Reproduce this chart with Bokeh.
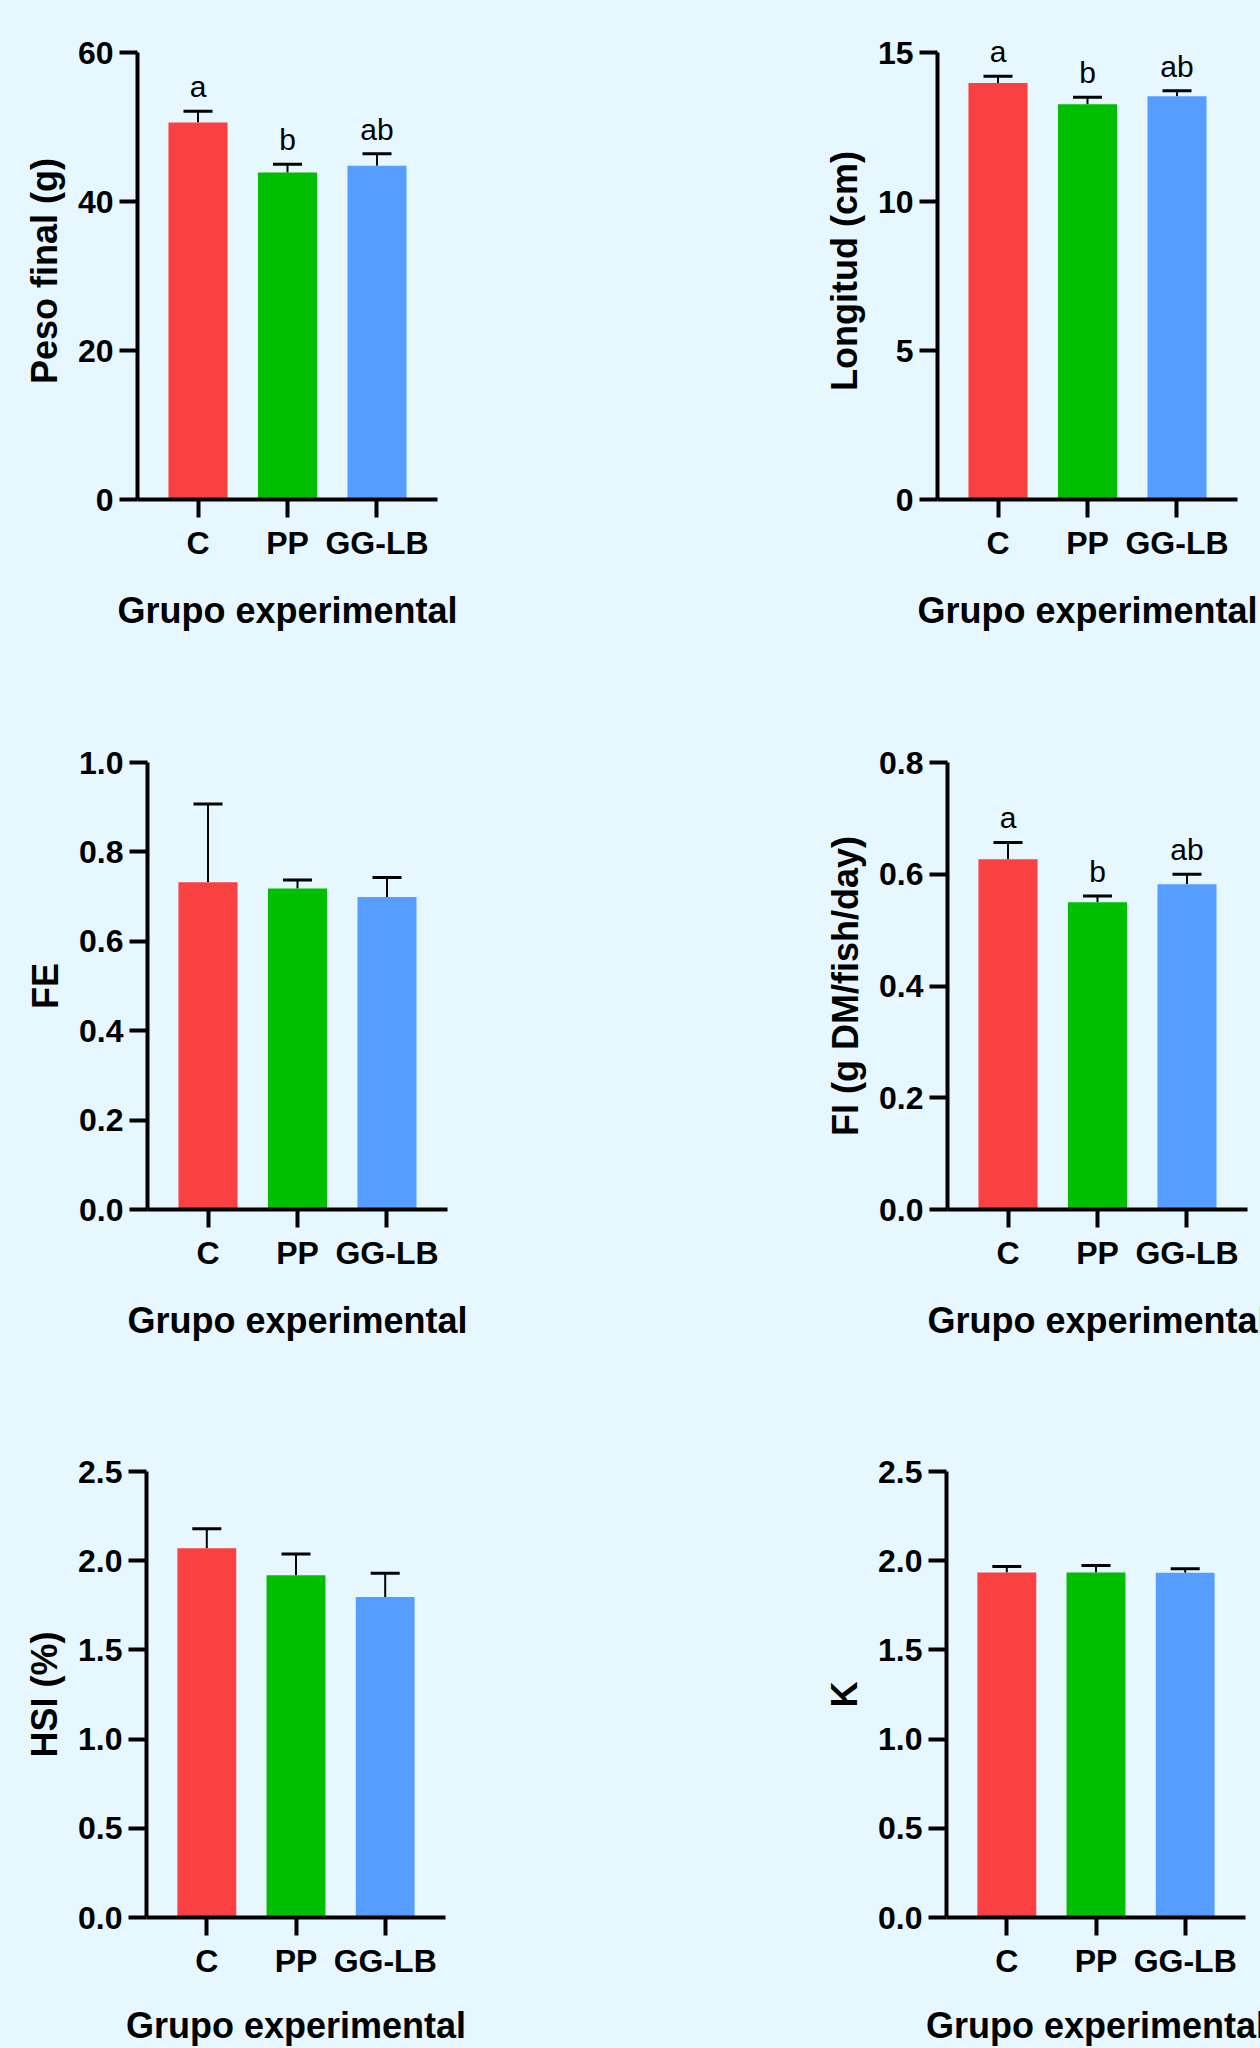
from bokeh.plotting import figure
from bokeh.models import (FactorRange, Range1d, FixedTicker, NumeralTickFormatter,
                          ColumnDataSource, LabelSet)
from bokeh.layouts import column, row
from bokeh.core.properties import value
from bokeh.embed import file_html
from bokeh.resources import INLINE

groups = ["C", "PP", "GG-LB"]
colors = ["#F94141", "#00BF00", "#559EFF"]
BG = "#E6F7FF"
FONT = "Liberation Sans"

peso = [50.6, 43.9, 44.8]
peso_err = [1.5, 1.1, 1.6]
peso_letters = ["a", "b", "ab"]

longitud = [13.98, 13.26, 13.53]
longitud_err = [0.22, 0.24, 0.19]
longitud_letters = ["a", "b", "ab"]

fe = [0.732, 0.718, 0.699]
fe_err = [0.175, 0.019, 0.044]

fi = [0.627, 0.550, 0.582]
fi_err = [0.030, 0.011, 0.018]
fi_letters = ["a", "b", "ab"]

hsi = [2.070, 1.918, 1.797]
hsi_err = [0.109, 0.120, 0.132]

k_vals = [1.934, 1.934, 1.932]
k_err = [0.034, 0.039, 0.023]

xlabel = "Grupo experimental"

AXIS_PX = 447   # pixel length of the drawn y axis


def panel(vals, errs, letters, ylabel, ymax, ticks, fmt, w, h, left, right, top, bottom,
          xstand=26, extra=0):
    p = figure(width=w, height=h, output_backend="svg", toolbar_location=None,
               x_range=FactorRange(factors=groups, range_padding=0.176, range_padding_units="absolute"),
               y_range=Range1d(0, ymax * (AXIS_PX + extra) / AXIS_PX),
               min_border_left=left, min_border_right=right,
               min_border_top=top - extra, min_border_bottom=bottom)
    p.background_fill_color = BG
    p.border_fill_color = BG
    p.outline_line_color = None
    p.xgrid.visible = False
    p.ygrid.visible = False
    tops = [v + e for v, e in zip(vals, errs)]
    src = ColumnDataSource(dict(x=groups, v=vals, top=tops, c=colors,
                                lab=letters if letters else [""] * 3))
    p.segment(x0="x", y0="v", x1="x", y1="top", source=src, line_color="black", line_width=2)
    p.scatter(x="x", y="top", source=src, marker="dash", size=29, line_color="black", line_width=3)
    p.vbar(x="x", top="v", width=0.66, source=src, fill_color="c", line_color=None)
    if letters:
        labels = LabelSet(x="x", y="top", text="lab", source=src, text_align="center",
                          text_baseline="alphabetic", y_offset=14,
                          text_font=value(FONT), text_font_size="30px", text_color="black")
        p.add_layout(labels)
    for ax in (p.xaxis[0], p.yaxis[0]):
        ax.axis_line_width = 4
        ax.axis_line_color = "black"
        ax.major_tick_line_width = 4
        ax.major_tick_line_color = "black"
        ax.major_tick_in = 0
        ax.major_tick_out = 18
        ax.minor_tick_line_color = None
        ax.major_label_text_font = FONT
        ax.major_label_text_font_style = "bold"
        ax.major_label_text_color = "black"
        ax.axis_label_text_font = FONT
        ax.axis_label_text_font_style = "bold"
        ax.axis_label_text_color = "black"
        ax.axis_label_text_font_size = "36px"
    xa = p.xaxis[0]
    xa.major_label_text_font_size = "32px"
    xa.major_label_standoff = 7
    xa.axis_label = xlabel
    xa.axis_label_standoff = xstand
    ya = p.yaxis[0]
    ya.ticker = FixedTicker(ticks=ticks)
    ya.bounds = (0, ymax)
    if fmt:
        ya.formatter = NumeralTickFormatter(format=fmt)
    ya.major_label_text_font_size = "32px"
    ya.major_label_standoff = 6
    ya.axis_label = ylabel
    ya.axis_label_standoff = 10
    return p


p1 = panel(peso, peso_err, peso_letters, "Peso final (g)", 60, [0, 20, 40, 60], None,
           630, 700, 137, 193, 52, 201, extra=10)
p2 = panel(longitud, longitud_err, longitud_letters, "Longitud (cm)", 15, [0, 5, 10, 15], None,
           630, 700, 307, 23, 52, 201, extra=10)
p3 = panel(fe, fe_err, None, "FE", 1.0, [0, 0.2, 0.4, 0.6, 0.8, 1.0], "0.0",
           630, 700, 147, 183, 62, 191)
p4 = panel(fi, fi_err, fi_letters, "FI (g DM/fish/day)", 0.8, [0, 0.2, 0.4, 0.6, 0.8], "0.0",
           630, 700, 317, 13, 62, 191)
p5 = panel(hsi, hsi_err, None, "HSI (%)", 2.5, [0, 0.5, 1.0, 1.5, 2.0, 2.5], "0.0",
           630, 648, 146, 185, 71, 130, xstand=23)
p6 = panel(k_vals, k_err, None, "K", 2.5, [0, 0.5, 1.0, 1.5, 2.0, 2.5], "0.0",
           630, 648, 316, 15, 71, 130, xstand=23)

layout = column(row(p1, p2, spacing=0), row(p3, p4, spacing=0), row(p5, p6, spacing=0), spacing=0)

html = file_html(layout, INLINE)
html = html.replace("<body>", '<body style="background-color:#E6F7FF;">', 1)
html = html.replace("</head>", "<style>html{background-color:#E6F7FF;}</style></head>", 1)
open("out.html", "w").write(html)
